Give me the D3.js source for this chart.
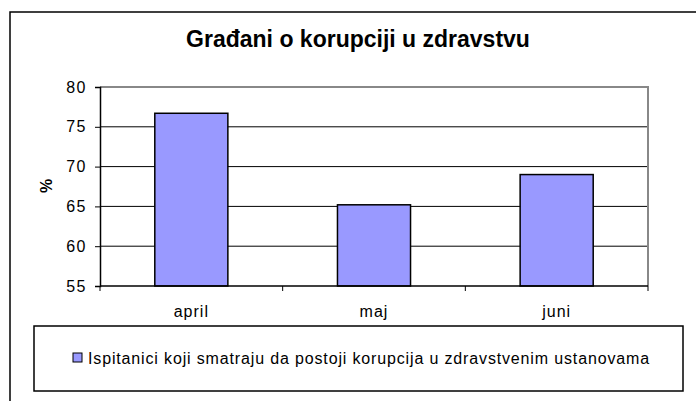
<!DOCTYPE html>
<html>
<head>
<meta charset="utf-8">
<script src="https://cdn.jsdelivr.net/npm/d3@7"></script>
<style>
  body { margin: 0; background: #fff; }
  text { font-family: "Liberation Sans", Arial, sans-serif; fill: #000; }
</style>
</head>
<body>
<svg id="chart" width="696" height="401"></svg>
<script>
// data
var months = ["april", "maj", "juni"];
var percents = [76.7, 65.2, 69.0];
var yTicks = [55, 60, 65, 70, 75, 80];
var seriesName = "Ispitanici koji smatraju da postoji korupcija u zdravstvenim ustanovama";
var title = "Građani o korupciji u zdravstvu";

var svg = d3.select("#chart");
var plot = { left: 100, top: 87, right: 648, bottom: 286 };

// outer chart frame
svg.append("rect")
    .attr("x", 10).attr("y", 12)
    .attr("width", 720).attr("height", 420)
    .style("fill", "none").style("stroke", "#000").style("stroke-width", 1.5);

svg.append("text")
    .attr("x", 358).attr("y", 47)
    .attr("text-anchor", "middle")
    .style("font-size", "23px").style("font-weight", "bold")
    .text(title);

var x = d3.scaleBand().domain(months).range([plot.left, plot.right]).paddingInner(0.6).paddingOuter(0.3);
var xb = d3.scaleBand().domain(months).range([plot.left, plot.right]);
var y = d3.scaleLinear().domain([55, 80]).range([plot.bottom, plot.top]);

// gridlines
svg.append("g").selectAll("line")
    .data(yTicks.slice(1, -1)).enter().append("line")
    .attr("x1", plot.left).attr("x2", plot.right)
    .attr("y1", d => y(d)).attr("y2", d => y(d))
    .style("stroke", "#000").style("stroke-width", 1);

// plot border (gray)
svg.append("path")
    .attr("d", "M" + plot.left + "," + plot.top + "H" + plot.right + "V" + plot.bottom)
    .style("fill", "none").style("stroke", "#888").style("stroke-width", 2);

// bars
svg.append("g").selectAll("rect")
    .data(percents).enter().append("rect")
    .attr("x", (d, i) => x(months[i]))
    .attr("y", d => y(d))
    .attr("width", x.bandwidth())
    .attr("height", d => plot.bottom - y(d))
    .style("fill", "#9999ff").style("stroke", "#000").style("stroke-width", 1.5);

// y axis
var yAxis = d3.axisLeft(y).tickValues(yTicks).tickSize(5).tickPadding(8);
var gy = svg.append("g").attr("transform", "translate(" + plot.left + ",0)").call(yAxis);
gy.select(".domain").style("stroke", "#000").style("stroke-width", 1.5);
gy.selectAll(".tick line").style("stroke", "#000");
gy.selectAll(".tick text")
    .style("font-size", "16px").style("font-family", "Liberation Sans, Arial, sans-serif")
    .style("letter-spacing", "1.5px");

// x axis: ticks at category boundaries
svg.append("line")
    .attr("x1", plot.left).attr("x2", plot.right)
    .attr("y1", plot.bottom).attr("y2", plot.bottom)
    .style("stroke", "#000").style("stroke-width", 1.5);
svg.append("g").selectAll("line")
    .data(months.concat(["end"])).enter().append("line")
    .attr("x1", (d, i) => i < months.length ? xb(d) : plot.right)
    .attr("x2", (d, i) => i < months.length ? xb(d) : plot.right)
    .attr("y1", plot.bottom).attr("y2", plot.bottom + 5)
    .style("stroke", "#000");
svg.append("g").selectAll("text")
    .data(months).enter().append("text")
    .attr("x", d => xb(d) + xb.bandwidth() / 2)
    .attr("y", 317)
    .attr("text-anchor", "middle")
    .style("font-size", "16px").style("letter-spacing", "1px")
    .text(d => d);

// y axis title
svg.append("text")
    .attr("transform", "translate(52,186) rotate(-90)")
    .attr("text-anchor", "middle")
    .style("font-size", "16px").style("font-weight", "bold")
    .text("%");

// legend
var legend = svg.append("g");
legend.append("rect")
    .attr("x", 34).attr("y", 326).attr("width", 649).attr("height", 65)
    .style("fill", "#fff").style("stroke", "#000").style("stroke-width", 1.5);
legend.append("rect")
    .attr("x", 73).attr("y", 353).attr("width", 9).attr("height", 9)
    .style("fill", "#9999ff").style("stroke", "#000").style("stroke-width", 1);
legend.append("text")
    .attr("x", 88).attr("y", 364)
    .style("font-size", "16px").style("letter-spacing", "0.85px")
    .text(seriesName);
</script>
</body>
</html>
